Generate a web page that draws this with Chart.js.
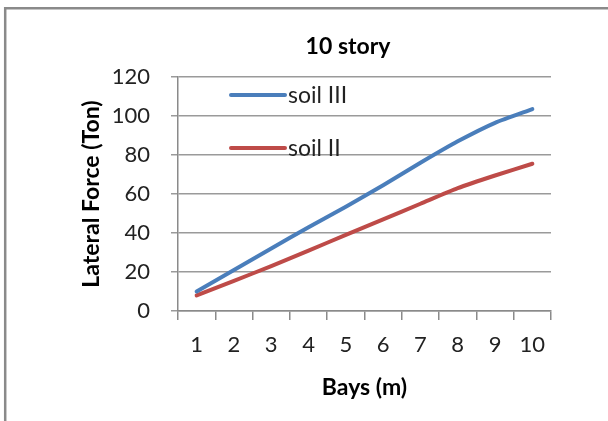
<!DOCTYPE html>
<html>
<head>
<meta charset="utf-8">
<script src="https://cdn.jsdelivr.net/npm/chart.js@4.4.1/dist/chart.umd.min.js"></script>
<style>
  html, body { margin: 0; padding: 0; background: #fff; }
  #wrap { position: relative; width: 608px; height: 421px; }
</style>
</head>
<body>
<div id="wrap"><canvas id="c" width="608" height="421"></canvas></div>
<script>
// Bays along the x axis
const bays = ['1', '2', '3', '4', '5', '6', '7', '8', '9', '10'];
// Lateral force (Ton) per soil type
const soilIII = [10, 21, 32, 43, 53.5, 64.5, 76, 87, 96.5, 103.5];
const soilII = [8, 15.5, 23, 31, 39, 47, 55, 63, 69.5, 75.5];
// Y axis range and step
const yMin = 0, yMax = 120, yStep = 20;

const FONT = 'Lato, "Open Sans", sans-serif';
const BLUE = '#4a7ebb';
const RED = '#be4b48';

// Frame, heading and in-plot legend
const decor = {
  id: 'decor',
  beforeDraw(chart) {
    const ctx = chart.ctx;
    ctx.save();
    ctx.fillStyle = '#fff';
    ctx.fillRect(0, 0, chart.width, chart.height);
    ctx.strokeStyle = '#8a8a8a';
    ctx.lineWidth = 2.5;
    ctx.beginPath();
    ctx.moveTo(5.2, chart.height + 5);
    ctx.lineTo(5.2, 8.2);
    ctx.lineTo(chart.width + 5, 8.2);
    ctx.stroke();
    ctx.restore();
  },
  afterDraw(chart) {
    const ctx = chart.ctx;
    const a = chart.chartArea;
    ctx.save();
    ctx.fillStyle = '#000';
    ctx.font = 'bold 23px ' + FONT;
    ctx.textAlign = 'center';
    ctx.textBaseline = 'middle';
    ctx.fillText('10 story', 348, 47);

    const items = [
      { label: 'soil III', color: BLUE, y: a.top + 18 },
      { label: 'soil II', color: RED, y: a.top + 71 }
    ];
    ctx.font = '23px ' + FONT;
    ctx.textAlign = 'left';
    items.forEach(it => {
      ctx.strokeStyle = it.color;
      ctx.lineWidth = 4;
      ctx.lineCap = 'round';
      ctx.beginPath();
      ctx.moveTo(a.left + 53, it.y);
      ctx.lineTo(a.left + 107, it.y);
      ctx.stroke();
      ctx.fillStyle = '#222';
      ctx.fillText(it.label, a.left + 110, it.y + 1);
    });
    ctx.restore();
  }
};

new Chart(document.getElementById('c'), {
  type: 'line',
  data: {
    labels: bays,
    datasets: [
      { label: 'soil III', data: soilIII, borderColor: BLUE, borderWidth: 4, pointRadius: 0, tension: 0.2, borderCapStyle: 'round', fill: false },
      { label: 'soil II', data: soilII, borderColor: RED, borderWidth: 4, pointRadius: 0, tension: 0.2, borderCapStyle: 'round', fill: false }
    ]
  },
  options: {
    responsive: false,
    animation: false,
    events: [],
    layout: { padding: { left: 78, top: 77, right: 57, bottom: 19.2 } },
    plugins: {
      legend: { display: false },
      title: { display: false },
      tooltip: { enabled: false }
    },
    scales: {
      x: {
        type: 'category',
        offset: true,
        grid: { offset: true, drawOnChartArea: false, drawTicks: true, tickLength: 9, color: '#8a8a8a', lineWidth: 1.5 },
        border: { display: true, color: '#8a8a8a', width: 1.5 },
        ticks: { color: '#222', font: { family: FONT, size: 22 }, padding: 12, maxRotation: 0, autoSkip: false },
        title: { display: true, text: 'Bays (m)', color: '#000', font: { family: FONT, size: 23, weight: 'bold' }, padding: 0 },
        afterFit(scale) { scale.height = 90.8; }
      },
      y: {
        min: yMin, max: yMax,
        grid: { color: '#9a9a9a', lineWidth: 1.5, drawTicks: true, tickLength: 7 },
        border: { display: true, color: '#8a8a8a', width: 1.5 },
        ticks: { stepSize: yStep, color: '#222', font: { family: FONT, size: 22 }, padding: 21 },
        title: { display: true, text: 'Lateral Force (Ton)', color: '#000', font: { family: FONT, size: 23, weight: 'bold' }, padding: 0 },
        afterFit(scale) { scale.width = 100; }
      }
    }
  },
  plugins: [decor]
});
</script>
</body>
</html>
